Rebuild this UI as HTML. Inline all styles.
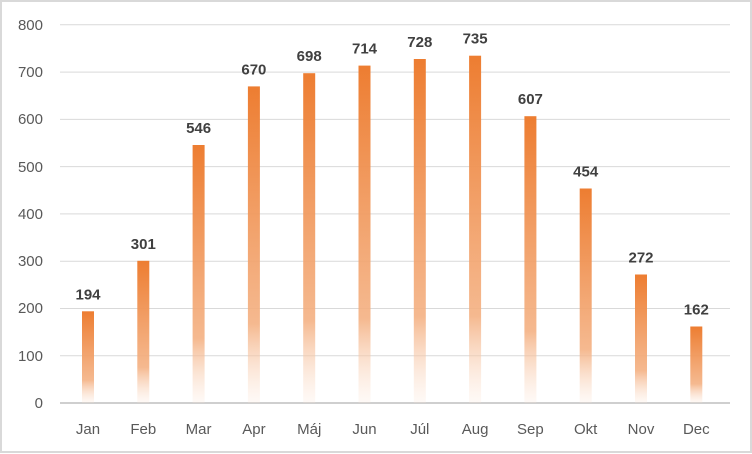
<!DOCTYPE html>
<html><head><meta charset="utf-8"><style>
html,body{margin:0;padding:0;background:#fff}
svg{display:block}
text{font-family:"Liberation Sans",sans-serif}
</style></head><body>
<svg width="752" height="454" viewBox="0 0 752 454">
<defs><linearGradient id="g" gradientUnits="objectBoundingBox" x1="0" y1="0" x2="0" y2="1">
<stop offset="0" stop-color="#ED7D31"/><stop offset="0.75" stop-color="#F4B183" stop-opacity="0.9"/><stop offset="1" stop-color="#FBE3D3" stop-opacity="0.2"/></linearGradient></defs>
<rect x="1" y="1" width="750" height="451" fill="#fff" stroke="#d9d9d9" stroke-width="2"/>
<g stroke="#d9d9d9" stroke-width="1">
<line x1="60" x2="730" y1="24.8" y2="24.8"/><line x1="60" x2="730" y1="72.1" y2="72.1"/><line x1="60" x2="730" y1="119.4" y2="119.4"/><line x1="60" x2="730" y1="166.6" y2="166.6"/><line x1="60" x2="730" y1="213.9" y2="213.9"/><line x1="60" x2="730" y1="261.2" y2="261.2"/><line x1="60" x2="730" y1="308.5" y2="308.5"/><line x1="60" x2="730" y1="355.7" y2="355.7"/>
</g>
<line x1="60" x2="730" y1="403" y2="403" stroke="#bfbfbf" stroke-width="1.5"/>
<g font-size="15" fill="#595959" text-anchor="end">
<text x="43" y="30">800</text><text x="43" y="77">700</text><text x="43" y="124">600</text><text x="43" y="172">500</text><text x="43" y="219">400</text><text x="43" y="266">300</text><text x="43" y="313">200</text><text x="43" y="361">100</text><text x="43" y="408">0</text>
</g>
<g fill="url(#g)">
<rect x="82" y="311.3" width="12" height="91.7"/>
<rect x="137.3" y="260.8" width="12" height="142.2"/>
<rect x="192.6" y="145" width="12" height="258"/>
<rect x="247.9" y="86.4" width="12" height="316.6"/>
<rect x="303.2" y="73.2" width="12" height="329.8"/>
<rect x="358.5" y="65.6" width="12" height="337.4"/>
<rect x="413.8" y="59" width="12" height="344"/>
<rect x="469.1" y="55.7" width="12" height="347.3"/>
<rect x="524.4" y="116.2" width="12" height="286.8"/>
<rect x="579.7" y="188.5" width="12" height="214.5"/>
<rect x="635" y="274.5" width="12" height="128.5"/>
<rect x="690.3" y="326.5" width="12" height="76.5"/>
</g>
<g font-size="15" font-weight="bold" fill="#404040" text-anchor="middle">
<text x="88" y="299.3">194</text>
<text x="143.3" y="248.8">301</text>
<text x="198.6" y="133">546</text>
<text x="253.9" y="74.4">670</text>
<text x="309.2" y="61.2">698</text>
<text x="364.5" y="53.6">714</text>
<text x="419.8" y="47">728</text>
<text x="475.1" y="43.7">735</text>
<text x="530.4" y="104.2">607</text>
<text x="585.7" y="176.5">454</text>
<text x="641" y="262.5">272</text>
<text x="696.3" y="314.5">162</text>
</g>
<g font-size="15" fill="#595959" text-anchor="middle">
<text x="88" y="434">Jan</text><text x="143.3" y="434">Feb</text><text x="198.6" y="434">Mar</text><text x="253.9" y="434">Apr</text><text x="309.2" y="434">Máj</text><text x="364.5" y="434">Jun</text><text x="419.8" y="434">Júl</text><text x="475.1" y="434">Aug</text><text x="530.4" y="434">Sep</text><text x="585.7" y="434">Okt</text><text x="641" y="434">Nov</text><text x="696.3" y="434">Dec</text>
</g>
</svg>
</body></html>
